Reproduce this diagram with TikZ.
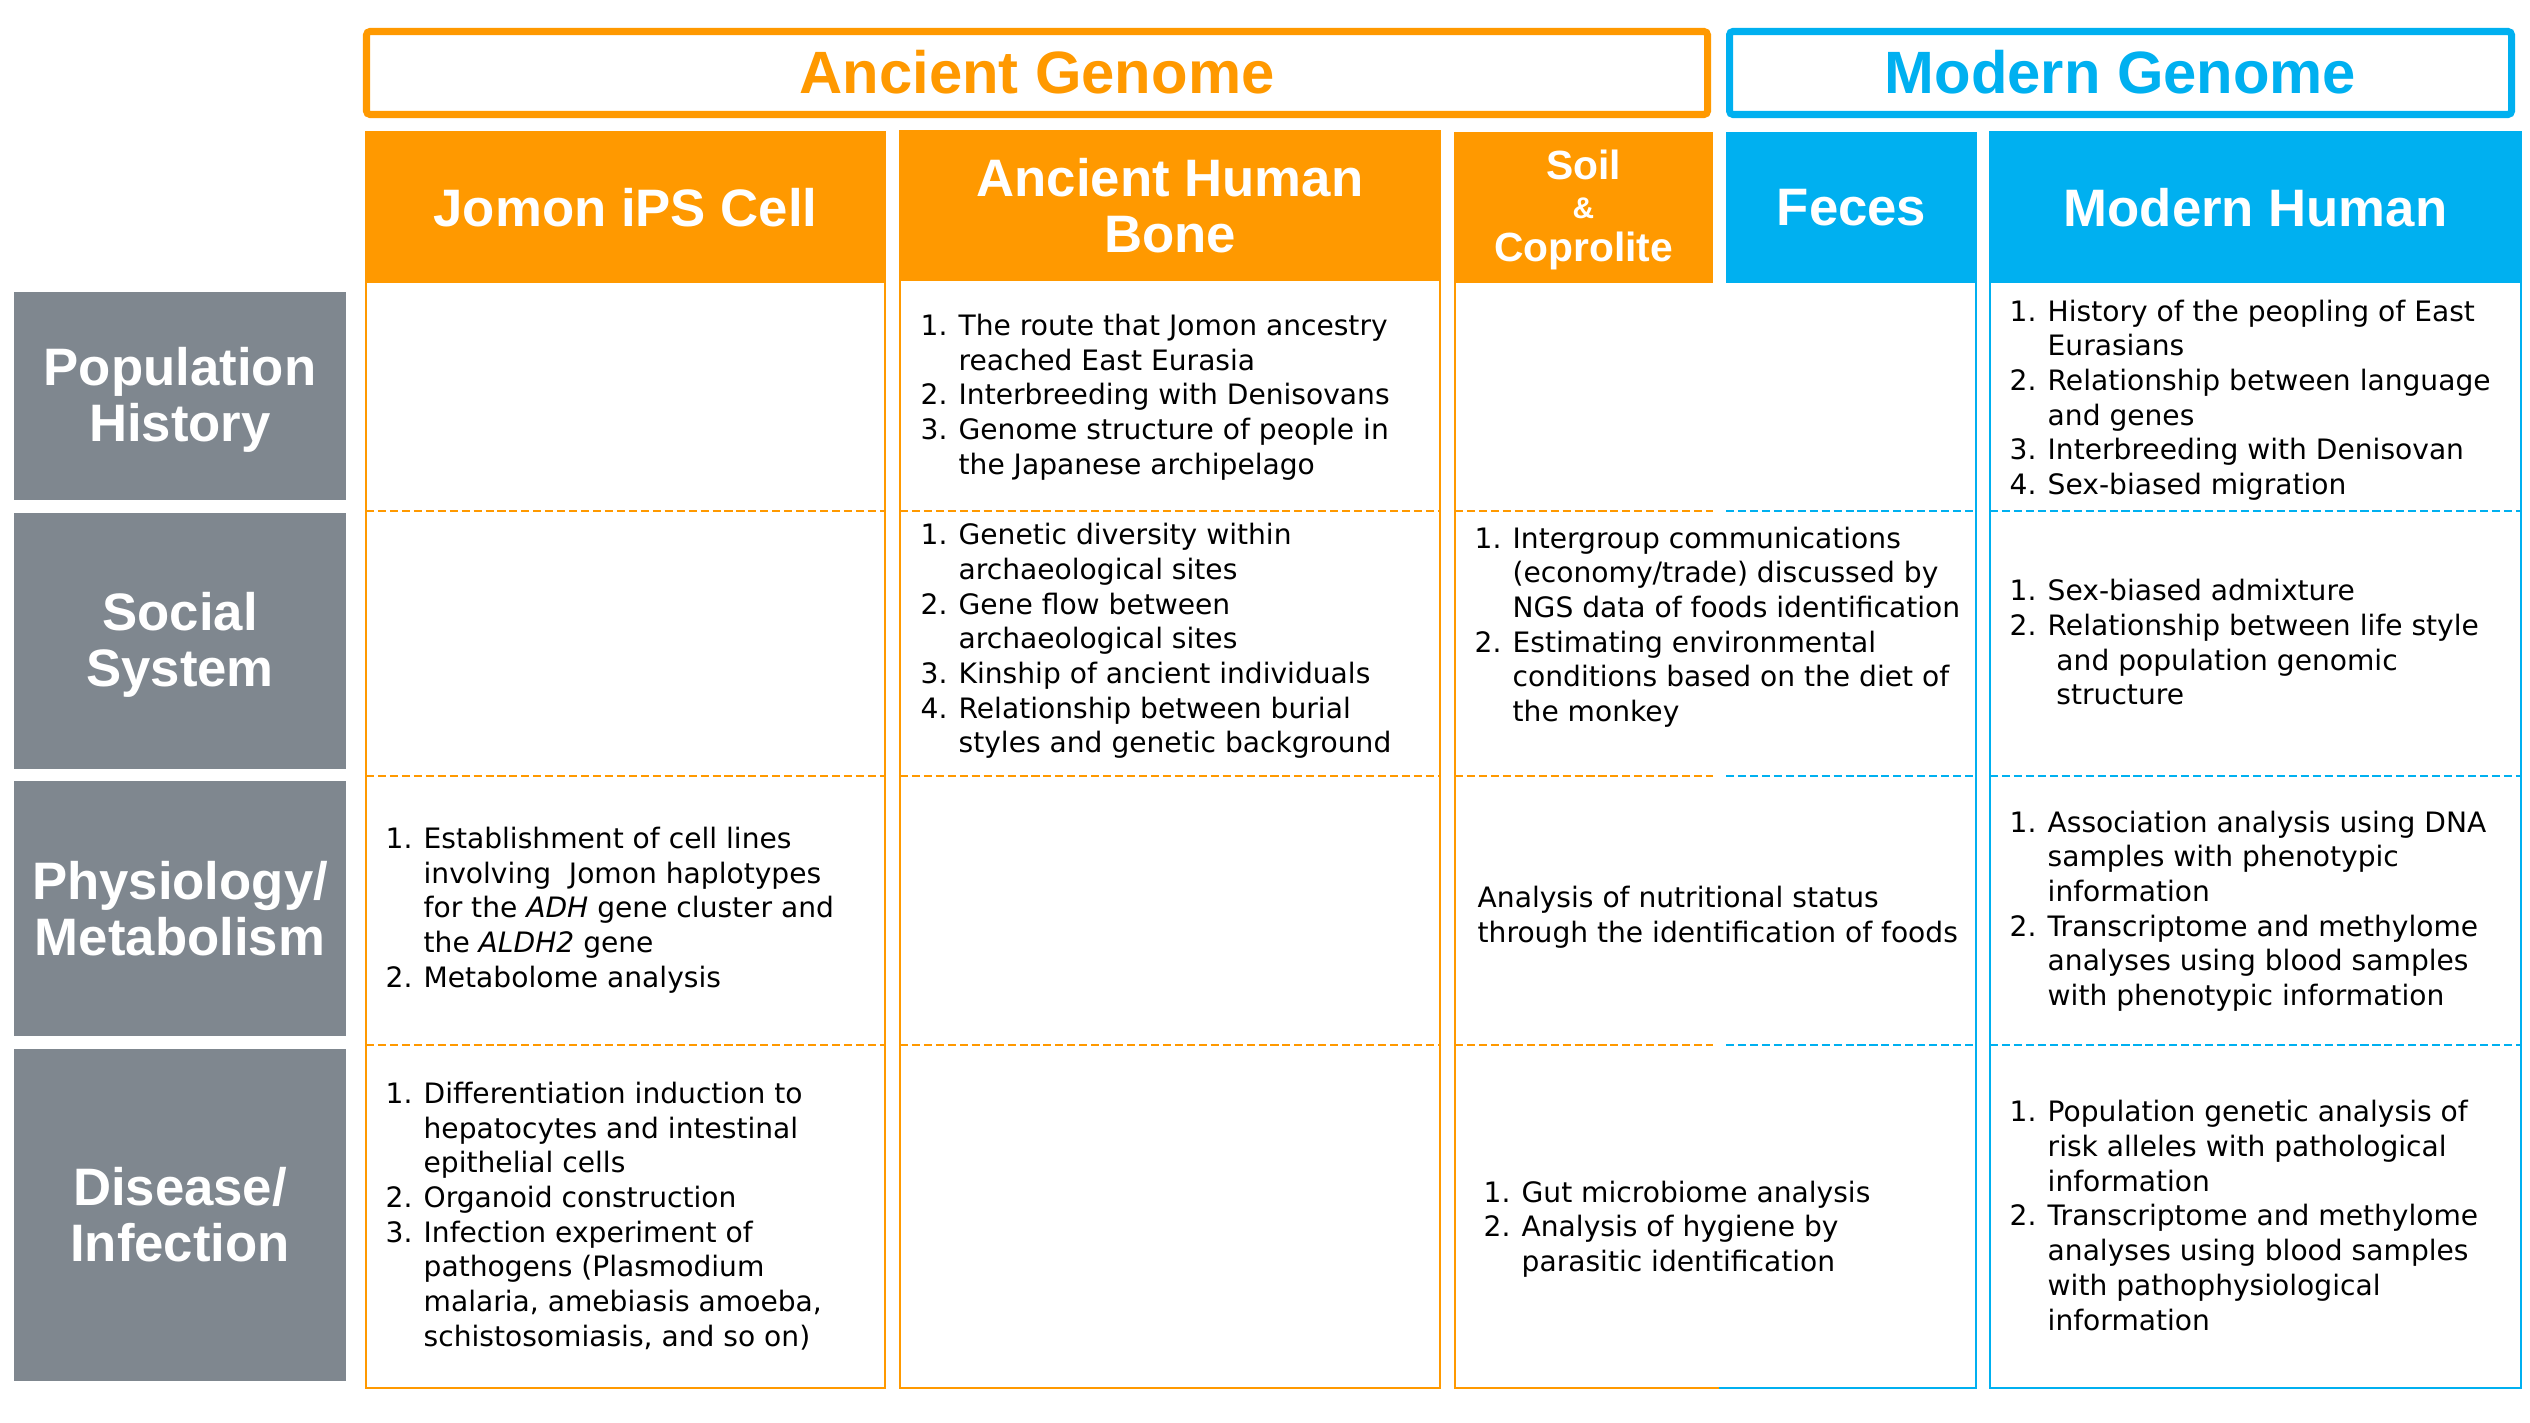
\documentclass[tikz,border=0pt]{standalone}
\usepackage{fontspec}
\setmainfont{DejaVu Sans}
\newfontfamily\headfont{Liberation Sans}
\definecolor{ogC}{HTML}{FF9900}
\definecolor{blC}{HTML}{00B0F0}
\definecolor{grC}{HTML}{7F878F}
\tikzset{
  hdrtxt/.style={text=white, align=center, inner sep=0pt, font=\headfont\bfseries\fontsize{15}{16}\selectfont},
  lblbox/.style={fill=grC, draw=none, minimum width=33.2mm},
  hdrbox/.style={draw=none, minimum height=15.1mm},
  celltxt/.style={anchor=west, inner sep=0pt, text=black, font=\fontsize{8}{9.87}\selectfont},
  dline/.style={line width=0.6pt, dash pattern=on 2.3pt off 1.1pt},
  colline/.style={line width=0.7pt},
  genbox/.style={line width=2pt, rounded corners=1pt, inner sep=0pt, minimum height=8.3mm, font=\headfont\bfseries\fontsize{17}{20}\selectfont},
}
\newcommand{\lst}[1]{\begin{tabular}{@{}p{10.8pt}@{}l@{}}#1\end{tabular}}
\begin{document}
\begin{tikzpicture}[x=0.1mm,y=-0.1mm]
\fill[white] (0,0) rectangle (2530,1423);
\useasboundingbox (0,0) rectangle (2530,1423);

% genome title boxes
\node[genbox, draw=ogC, text=ogC, minimum width=134.1mm] (ancient) at (1037,73) {\raisebox{0.3mm}{Ancient Genome}};
\node[genbox, draw=blC, text=blC, minimum width=78.2mm] (modern) at (2120.5,73) {\raisebox{0.3mm}{Modern Genome}};

% column body outlines
\draw[ogC, colline] (366,132) rectangle (885,1388);
\draw[ogC, colline] (900,132) rectangle (1440,1388);
\draw[ogC, colline] (1455,132) -- (1455,1388) -- (1719,1388);
\draw[blC, colline] (1719,1388) -- (1976,1388) -- (1976,132);
\draw[blC, colline] (1990,132) rectangle (2521,1388);

% dashed row separators
\foreach \yy in {511,776,1045}{
  \draw[ogC, dline] (366,\yy) -- (885,\yy);
  \draw[ogC, dline] (900,\yy) -- (1440,\yy);
  \draw[ogC, dline] (1455,\yy) -- (1713,\yy);
  \draw[blC, dline] (1726,\yy) -- (1976,\yy);
  \draw[blC, dline] (1990,\yy) -- (2521,\yy);
}

% column headers
\node[hdrbox, fill=ogC, minimum width=52.1mm, hdrtxt] (hJomon) at (625.5,207.5) {Jomon iPS Cell};
\node[hdrbox, fill=ogC, minimum width=54.2mm, hdrtxt] (hBone) at (1170,206) {Ancient Human\\Bone};
\node[hdrbox, fill=ogC, minimum width=25.9mm] (hSoil) at (1583.5,207.5) {};
\node[hdrtxt, font=\headfont\bfseries\fontsize{11.6}{11}\selectfont] (tSoil) at ([yshift=-0.25mm]hSoil.center) {Soil\\{\fontsize{8.5}{11}\selectfont\&}\\[0.5mm]Coprolite};
\node[hdrbox, fill=blC, minimum width=25.1mm, hdrtxt] (hFeces) at (1851.5,207.5) {Feces};
\node[hdrbox, fill=blC, minimum width=53.3mm, hdrtxt] (hModern) at (2255.5,207.5) {Modern Human};

% row labels
\node[lblbox, minimum height=20.8mm] (lPop) at (180,396) {};
\node[hdrtxt] (tPop) at ([yshift=-0.4mm]lPop.center) {Population\\History};
\node[lblbox, minimum height=25.6mm] (lSoc) at (180,641) {};
\node[hdrtxt] (tSoc) at ([yshift=-0.4mm]lSoc.center) {Social\\System};
\node[lblbox, minimum height=25.5mm, hdrtxt] (lPhys) at (180,908.5) {Physiology/\\Metabolism};
\node[lblbox, minimum height=33.2mm, hdrtxt] (lDis) at (180,1215) {Disease/\\Infection};

% Jomon iPS Cell
\node[celltxt] (jPhys) at (385,911) {\lst{%
1. & Establishment of cell lines\\
   & involving\ \ Jomon haplotypes\\
   & for the \textit{ADH} gene cluster and\\
   & the \textit{ALDH2} gene\\
2. & Metabolome analysis}};
\node[celltxt] (jDis) at (385,1218) {\lst{%
1. & Differentiation induction to\\
   & hepatocytes and intestinal\\
   & epithelial cells\\
2. & Organoid construction\\
3. & Infection experiment of\\
   & pathogens (Plasmodium\\
   & malaria, amebiasis amoeba,\\
   & schistosomiasis, and so on)}};

% Ancient Human Bone
\node[celltxt] (bPop) at (920,398) {\lst{%
1. & The route that Jomon ancestry\\
   & reached East Eurasia\\
2. & Interbreeding with Denisovans\\
3. & Genome structure of people in\\
   & the Japanese archipelago}};
\node[celltxt] (bSoc) at (920,642) {\lst{%
1. & Genetic diversity within\\
   & archaeological sites\\
2. & Gene flow between\\
   & archaeological sites\\
3. & Kinship of ancient individuals\\
4. & Relationship between burial\\
   & styles and genetic background}};

% Soil & Coprolite / Feces
\node[celltxt] (sSoc) at (1474,628) {\lst{%
1. & Intergroup communications\\
   & (economy/trade) discussed by\\
   & NGS data of foods identification\\
2. & Estimating environmental\\
   & conditions based on the diet of\\
   & the monkey}};
\node[celltxt] (sPhys) at (1477,918) {\begin{tabular}{@{}l@{}}Analysis of nutritional status\\through the identification of foods\end{tabular}};
\node[celltxt] (sDis) at (1483,1230) {\lst{%
1. & Gut microbiome analysis\\
2. & Analysis of hygiene by\\
   & parasitic identification}};

% Modern Human
\node[celltxt] (mPop) at (2009,401) {\lst{%
1. & History of the peopling of East\\
   & Eurasians\\
2. & Relationship between language\\
   & and genes\\
3. & Interbreeding with Denisovan\\
4. & Sex-biased migration}};
\node[celltxt] (mSoc) at (2009,646) {\lst{%
1. & Sex-biased admixture\\
2. & Relationship between life style\\
   & \hspace{2.5pt}and population genomic\\
   & \hspace{2.5pt}structure}};
\node[celltxt] (mPhys) at (2009,912) {\lst{%
1. & Association analysis using DNA\\
   & samples with phenotypic\\
   & information\\
2. & Transcriptome and methylome\\
   & analyses using blood samples\\
   & with phenotypic information}};
\node[celltxt] (mDis) at (2009,1219) {\lst{%
1. & Population genetic analysis of\\
   & risk alleles with pathological\\
   & information\\
2. & Transcriptome and methylome\\
   & analyses using blood samples\\
   & with pathophysiological\\
   & information}};
\end{tikzpicture}
\end{document}
